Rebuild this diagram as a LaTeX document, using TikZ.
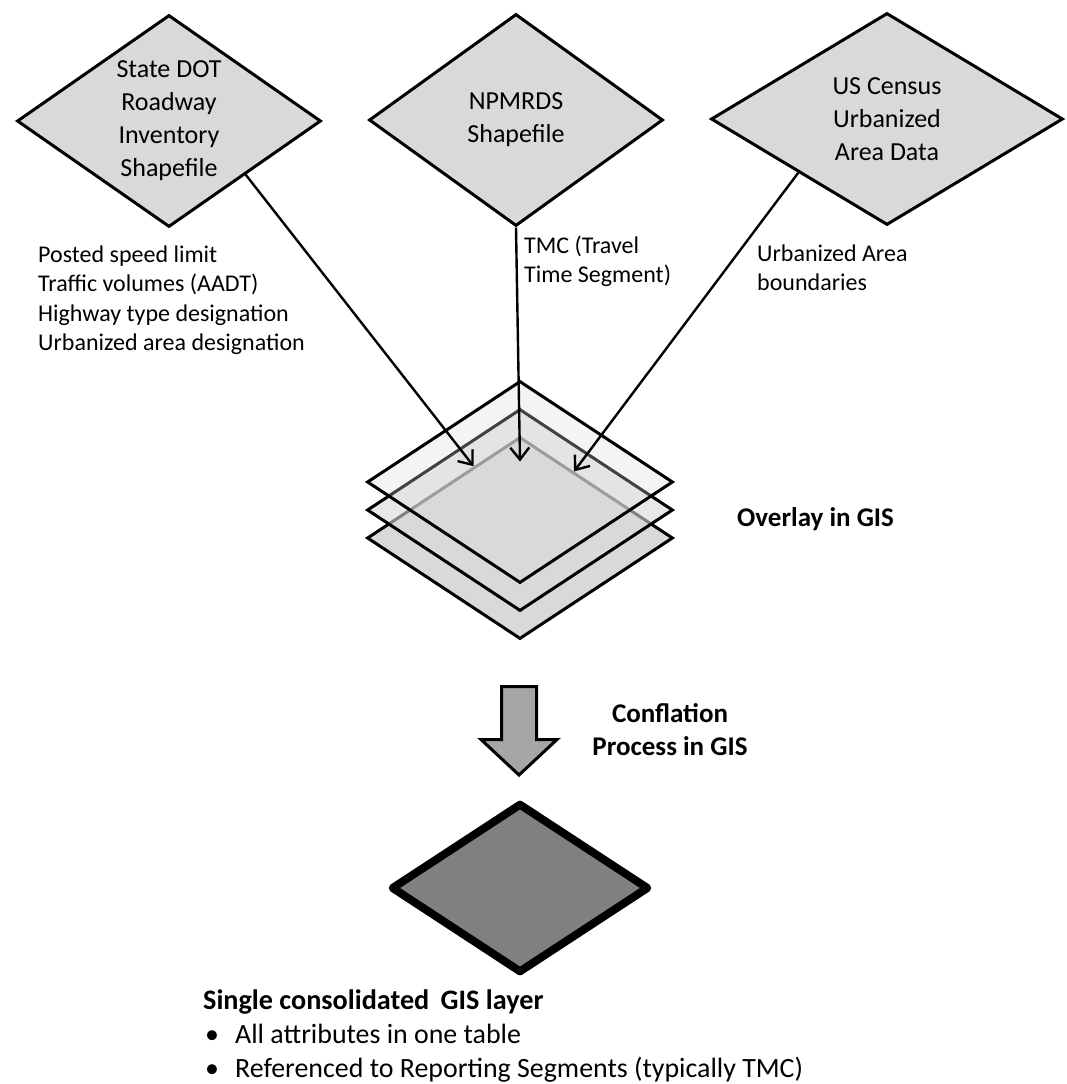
\documentclass[tikz,border=0pt]{standalone}
\usepackage{fontspec}
\setmainfont{Carlito}
\usetikzlibrary{shapes.geometric,arrows.meta,calc}
\definecolor{boxgray}{HTML}{D9D9D9}
\definecolor{arrgray}{HTML}{A6A6A6}
\definecolor{outgray}{HTML}{808080}
\begin{document}
\begin{tikzpicture}[x=1pt,y=-1pt,
  src/.style={diamond, draw=black, line width=3pt, fill=boxgray, inner sep=0pt,
    align=center, font=\fontsize{26}{33}\selectfont},
  layer/.style={diamond, draw=black, line width=3pt, fill=boxgray, inner sep=0pt,
    minimum width=306pt, minimum height=202pt, aspect=1.5},
  conn/.style={line width=2.4pt, -{Straight Barb[length=12pt,width=19pt,line width=2.4pt]}},
  lbl/.style={align=left, font=\fontsize{24}{29.5}\selectfont, inner sep=0pt},
  blbl/.style={font=\bfseries\fontsize{27}{33}\selectfont, inner sep=0pt},
  bbig/.style={font=\bfseries\fontsize{28.2}{34}\selectfont, inner sep=0pt},
  btxt/.style={font=\fontsize{27.9}{34}\selectfont, inner sep=0pt}
]
\useasboundingbox (0,0) rectangle (1067,1084);

% source diamonds
\node[src, minimum width=304pt, minimum height=212pt, aspect=1.43] (D1) at (169,121)
  {State DOT\\Roadway\\Inventory\\Shapefile};
\node[src, minimum width=294pt, minimum height=212pt, aspect=1.39] (D2) at (516,120)
  {NPMRDS\\Shapefile};
\node[src, minimum width=352pt, minimum height=212pt, aspect=1.66] (D3) at (887,119)
  {US Census\\Urbanized\\Area Data};

% stacked layers
\node[layer] (L3) at (520,538) {};
\node[layer, fill opacity=0.6] (L2) at (520,510) {};
\node[layer, fill opacity=0.3] (L1) at (520,482) {};

\coordinate (t1) at ($(L3.north)!0.3!(L3.west)$);
\coordinate (t2) at ($(L3.north)+(0,26)$);
\coordinate (t3) at ($(L3.north)!0.35!(L3.east)$);

\draw[conn] (D1.south east) -- (t1);
\draw[conn] (D2.south) -- (t2);
\draw[conn] (D3.south west) -- (t3);

% labels (base anchor = last line)
\node[lbl, anchor=base west] (lab1) at (38,350.5)
  {Posted speed limit\\Traffic volumes (AADT)\\Highway type designation\\Urbanized area designation};
\node[lbl, anchor=base west] (lab2) at (524,282.5) {TMC (Travel\\Time Segment)};
\node[lbl, anchor=base west] (lab3) at (757,290.5) {Urbanized Area\\boundaries};
\node[blbl, anchor=base west] (ov) at (737,526) {Overlay in GIS};

% conflation arrow
\draw[line width=3pt, fill=arrgray] (501.5,686.5) -- (536.5,686.5) -- (536.5,739.5)
  -- (557,739.5) -- (519,775) -- (481,739.5) -- (501.5,739.5) -- cycle;
\node[blbl, align=center, anchor=base] (conf) at (670,755) {Conflation\\Process in GIS};

% result layer
\node[diamond, draw=black, line width=8pt, line join=round, fill=outgray, inner sep=0pt,
  minimum width=258pt, minimum height=170pt, aspect=1.52] (res) at (520,888) {};

% bottom text
\node[bbig, anchor=base west] (single) at (203,1009) {Single consolidated\hspace{5pt} GIS layer};
\node[btxt, anchor=base west] (it1) at (205,1043) {\makebox[30pt][l]{•}All attributes in one table};
\node[btxt, anchor=base west] (it2) at (205,1077) {\makebox[30pt][l]{•}Referenced to Reporting Segments (typically TMC)};
\end{tikzpicture}
\end{document}
